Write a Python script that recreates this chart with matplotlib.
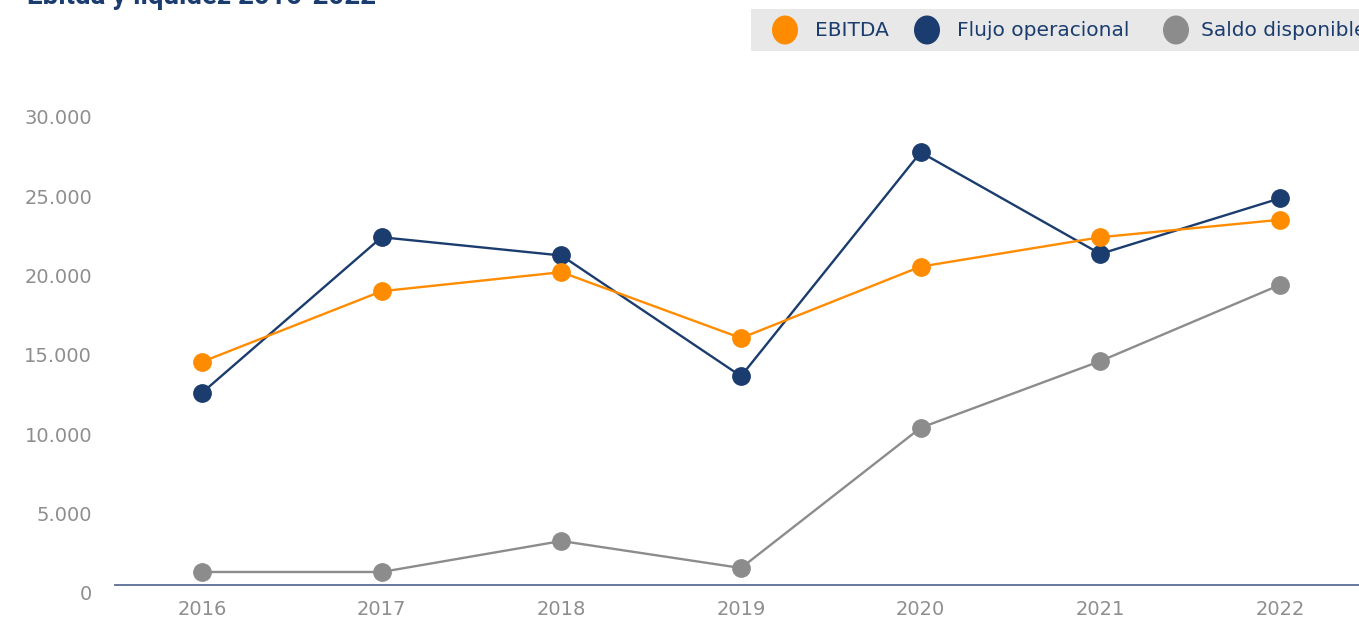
import matplotlib
matplotlib.use("Agg")
import matplotlib.pyplot as plt
from matplotlib.patches import Ellipse, Rectangle
from matplotlib.ticker import FuncFormatter
import matplotlib.transforms as mtransforms

# ---- data ----
years = [2016, 2017, 2018, 2019, 2020, 2021, 2022]
ebitda = [14050, 18500, 19700, 15550, 20050, 21900, 23000]
flujo = [12100, 21900, 20750, 13150, 27250, 20850, 24350]
saldo = [820, 820, 2770, 1070, 9900, 14100, 18900]
y_ticks = [0, 5000, 10000, 15000, 20000, 25000, 30000]
series_names = ["EBITDA", "Flujo operacional", "Saldo disponible"]
title = "Ebitda y liquidez 2016-2022"

ORANGE = "#ff8c00"
NAVY = "#1b3c6e"
GRAY = "#8c8c8c"
TICK = "#8e8e8e"
FONT = "DejaVu Sans"

W, H = 1359, 620
fig = plt.figure(figsize=(W / 100, H / 100), dpi=100)

def px(x0, y0, x1, y1):
    # pixel box (top-left origin) -> figure fraction rect
    return [x0 / W, 1 - y1 / H, (x1 - x0) / W, (y1 - y0) / H]

# overlay for legend/title in pixel coords
ov = fig.add_axes([0, 0, 1, 1], zorder=0)
ov.set_xlim(0, W)
ov.set_ylim(H, 0)
ov.axis("off")

# main axes: zero at y=585 px, 30000 at ~108.6 px, left at 115 px
ax = fig.add_axes(px(115, 108.6, W, 585), zorder=1)
ax.patch.set_alpha(0)

ax.plot(years, saldo, color=GRAY, lw=1.7, marker="o", ms=12.5, clip_on=False, zorder=3)
ax.plot(years, flujo, color=NAVY, lw=1.7, marker="o", ms=12.5, clip_on=False, zorder=4)
ax.plot(years, ebitda, color=ORANGE, lw=1.7, marker="o", ms=12.5, clip_on=False, zorder=5)

ax.set_xlim(2016 - 87 / 179.7, 2022 + 79 / 179.7)
ax.set_ylim(0, 30000)
ax.set_xticks(years)
ax.set_xticklabels([str(y) for y in years], fontsize=14, color=TICK, family=FONT)
ax.set_yticks(y_ticks)
ax.yaxis.set_major_formatter(FuncFormatter(lambda v, p: f"{int(v):,}".replace(",", ".")))
for lab in ax.get_yticklabels():
    lab.set_fontsize(14)
    lab.set_color(TICK)
    lab.set_family(FONT)
ax.tick_params(axis="both", length=0)
ax.tick_params(axis="x", pad=11)
ax.tick_params(axis="y", pad=16.5)
# shift y labels down by 8 px
off = mtransforms.ScaledTranslation(0, -8 / 100, fig.dpi_scale_trans)
for lab in ax.get_yticklabels():
    lab.set_transform(lab.get_transform() + off)

for s in ["top", "right", "left"]:
    ax.spines[s].set_visible(False)
ax.spines["bottom"].set_color("#5a6f96")
ax.spines["bottom"].set_linewidth(1.3)
ax.grid(False)

# title (clipped at top)
ov.text(27, 4, title, fontsize=20, fontweight="bold", color=NAVY, family="Roboto",
        ha="left", va="baseline")

# legend box
ov.add_patch(Rectangle((751, 9), W - 751 + 5, 42, facecolor="#e8e8e8", edgecolor="none"))
cols = [ORANGE, NAVY, GRAY]
cx = [785, 927, 1176]
tx = [815, 957, 1201]
for c, x, t, name in zip(cols, cx, tx, series_names):
    ov.add_patch(Ellipse((x, 30), 26, 29, facecolor=c, edgecolor="none"))
    ov.text(t, 31, name, fontsize=14.5, color=NAVY, family=FONT, ha="left", va="center")

fig.savefig("out.png", dpi=100)
